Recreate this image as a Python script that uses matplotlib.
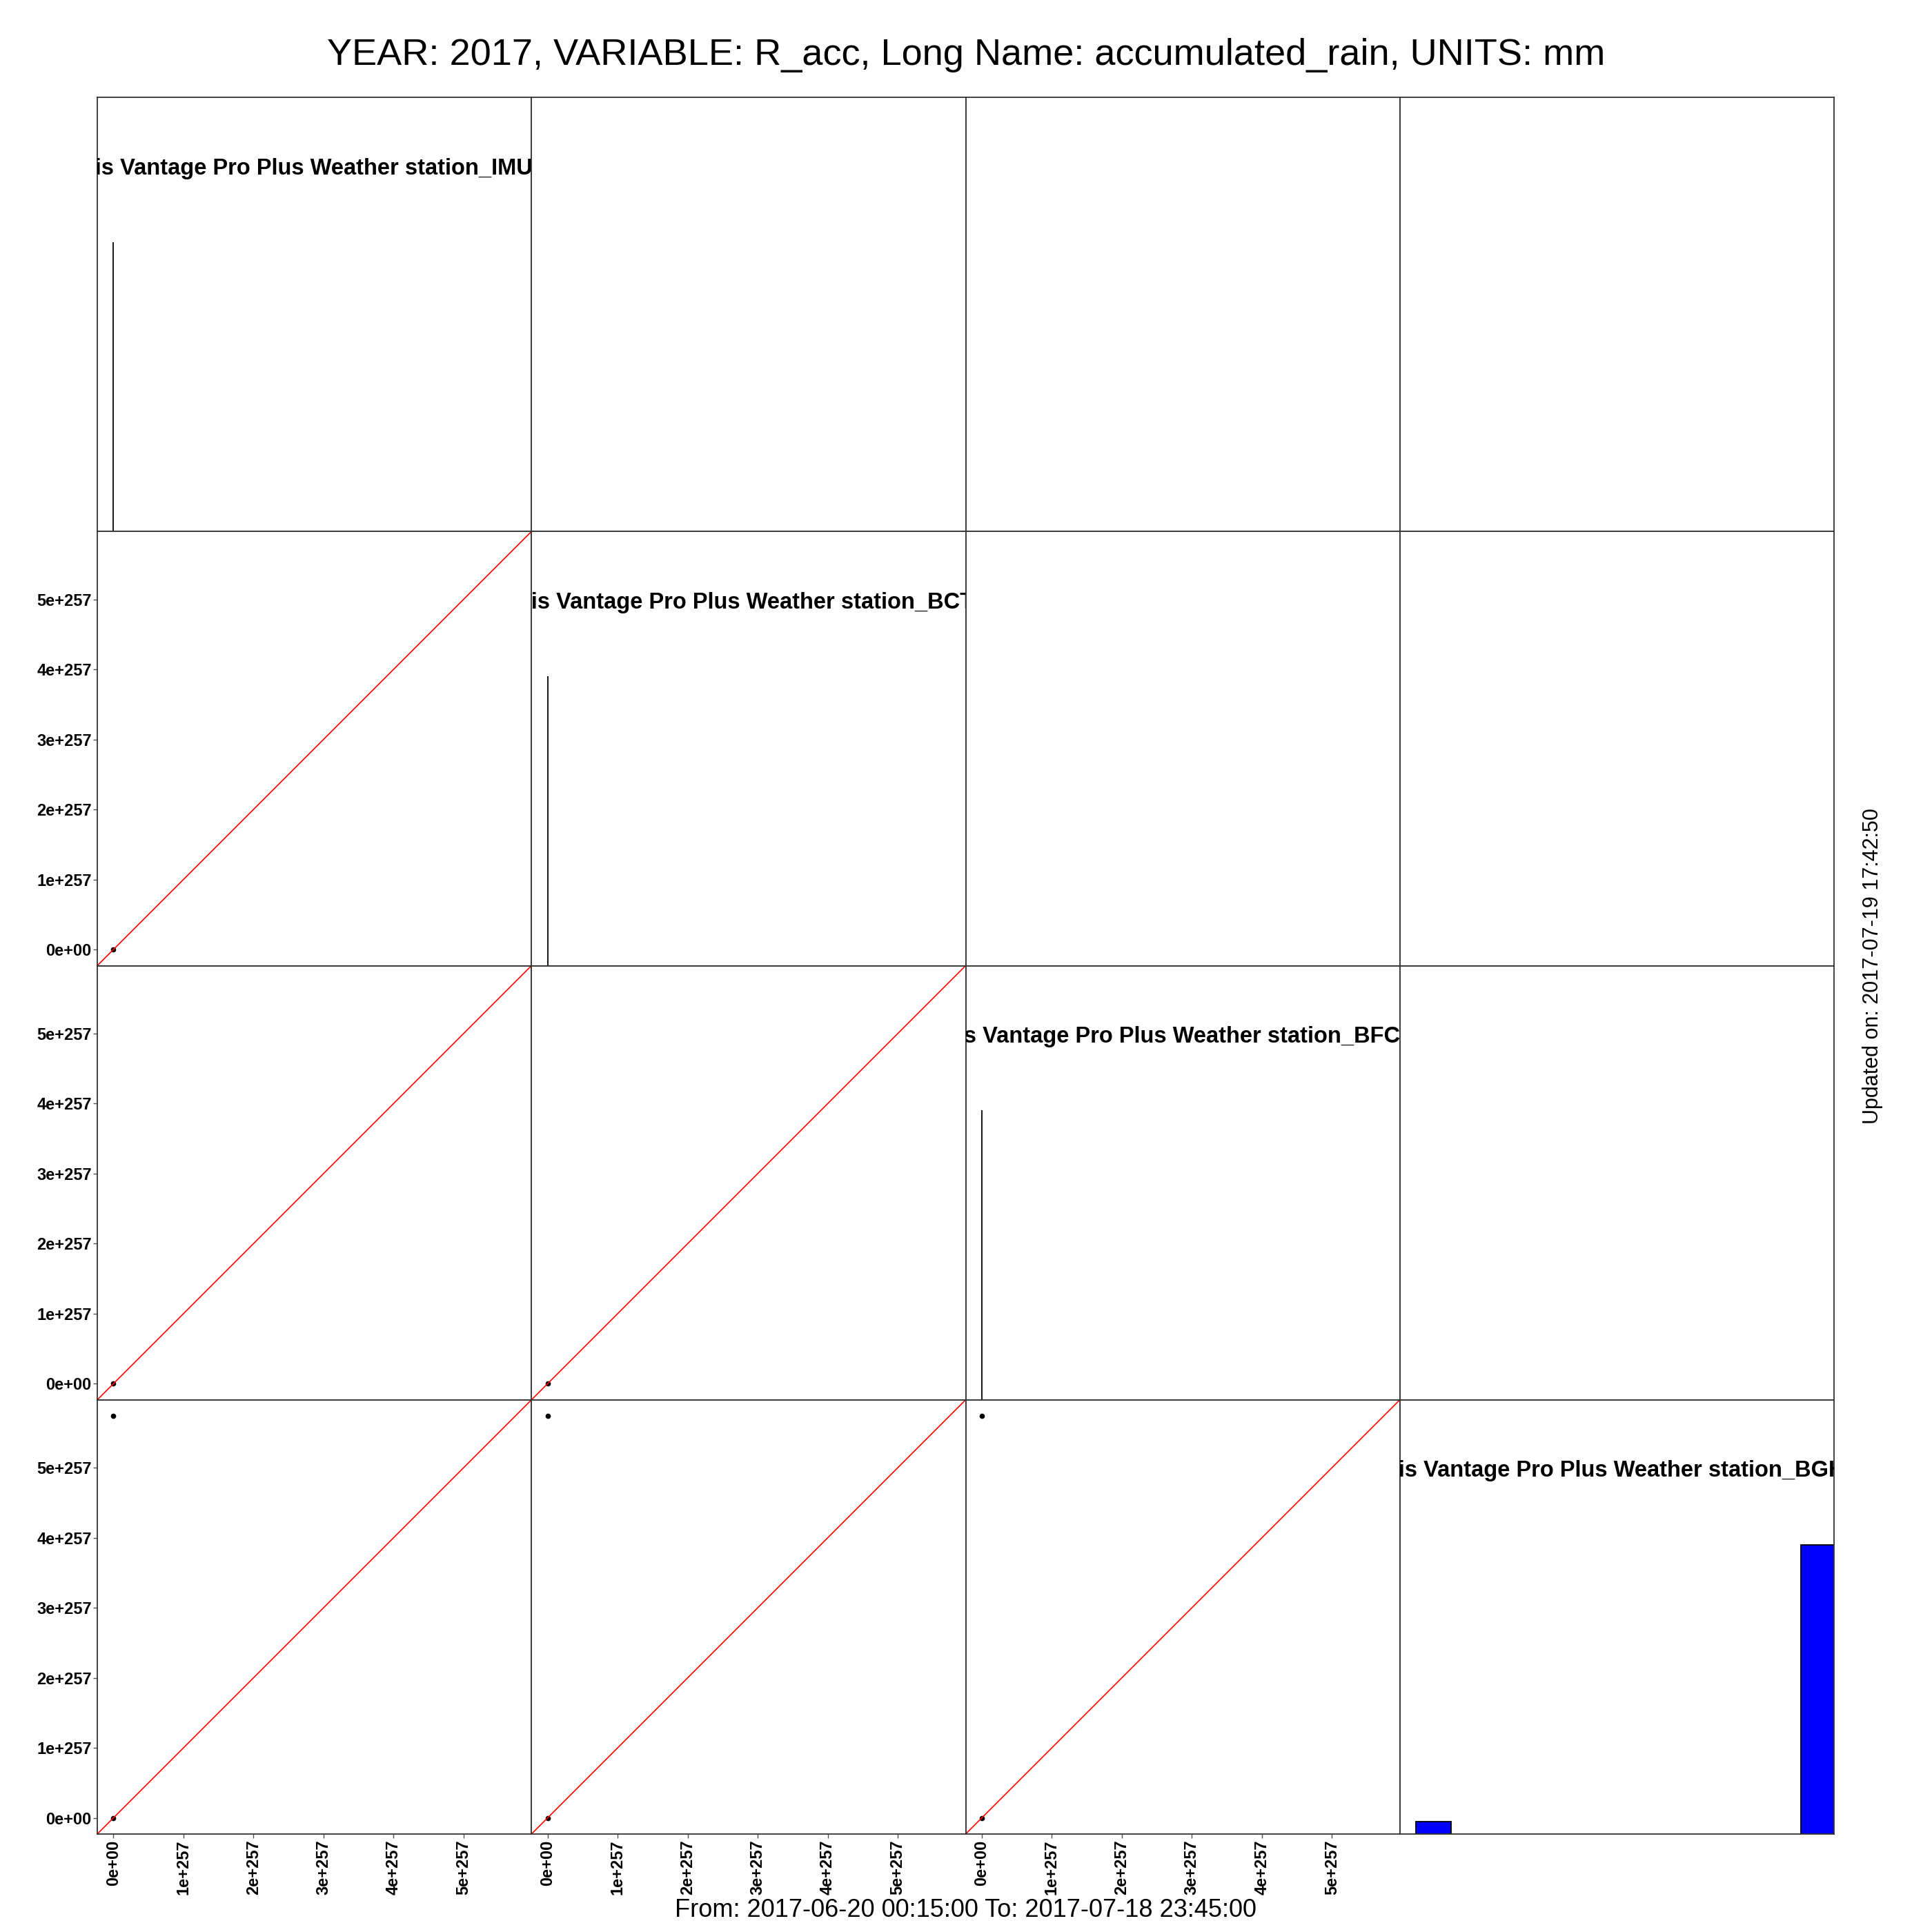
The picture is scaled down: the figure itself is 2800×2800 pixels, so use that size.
import numpy as np
import matplotlib
matplotlib.use("Agg")
import matplotlib.pyplot as plt

plt.rcParams['font.family'] = ['Liberation Sans', 'DejaVu Sans']

# ---------------- data ----------------
title = "YEAR: 2017, VARIABLE: R_acc, Long Name: accumulated_rain, UNITS: mm"
bottom_text = "From: 2017-06-20 00:15:00 To: 2017-07-18 23:45:00"
right_text = "Updated on: 2017-07-19 17:42:50"
station_titles = [
    "Davis Vantage Pro Plus Weather station_IMU",
    "Davis Vantage Pro Plus Weather station_BCT",
    "Davis Vantage Pro Plus Weather station_BFC",
    "Davis Vantage Pro Plus Weather station_BGH",
]
data_min = 0.0
data_max = 5.74e257
tick_values = [0.0, 1e257, 2e257, 3e257, 4e257, 5e257]
tick_labels = ["0e+00", "1e+257", "2e+257", "3e+257", "4e+257", "5e+257"]

# scatter points of the lower panels: (row, col) -> x values, y values
scatter_x = {(1, 0): [0.0], (2, 0): [0.0], (2, 1): [0.0],
             (3, 0): [0.0, 0.0], (3, 1): [0.0, 0.0], (3, 2): [0.0, 0.0]}
scatter_y = {(1, 0): [0.0], (2, 0): [0.0], (2, 1): [0.0],
             (3, 0): [0.0, 5.74e257], (3, 1): [0.0, 5.74e257], (3, 2): [0.0, 5.74e257]}

# histogram on the diagonal: bin left edges, widths, counts
hist_left = [[0.0], [0.0], [0.0], [0.0, 5.5e257]]
hist_width = [[1e253], [1e253], [1e253], [0.5e257, 0.5e257]]
hist_counts = [[24], [24], [24], [1, 23]]

SCALE = 1e257  # plotting unit

# layout: right end of each (clipped) station title, in axes fraction
title_right_x = [1.003, 1.019, 1.0, 1.024]

# ---------------- figure ----------------
W = 2800
fig, axes = plt.subplots(4, 4, figsize=(28, 28), dpi=100)
fig.subplots_adjust(left=141 / W, right=2658 / W, bottom=1 - 2658 / W, top=1 - 141 / W,
                    wspace=0, hspace=0)

span = (data_max - data_min) / SCALE
lim = (data_min / SCALE - 0.04 * span, data_max / SCALE + 0.04 * span)
ticks = [t / SCALE for t in tick_values]

n = 4
for r in range(n):
    for c in range(n):
        ax = axes[r, c]
        ax.set_xlim(lim)
        if r == c:
            ax.set_ylim(0, 1.5)
            cnt = np.array(hist_counts[r], dtype=float)
            left = np.array(hist_left[r]) / SCALE
            wid = np.array(hist_width[r]) / SCALE
            ax.bar(left, cnt / cnt.max(), width=wid, align='edge', color='blue',
                   edgecolor='black', linewidth=1.3)
            ax.text(title_right_x[r], 0.836, station_titles[r], transform=ax.transAxes,
                    ha='right', va='center', fontsize=23.5, fontweight='bold',
                    clip_on=True)
        else:
            ax.set_ylim(lim)
            if r > c:
                xs = np.array(scatter_x[(r, c)]) / SCALE
                ys = np.array(scatter_y[(r, c)]) / SCALE
                ax.plot(xs, ys, 'o', color='black', markersize=4.5, linestyle='none')
                ax.axline((0, 0), slope=1, color='red', linewidth=1.2)
        # ticks
        ax.tick_params(direction='out', length=4, width=1, color='#555555',
                       labelsize=17, pad=2)
        if c == 0 and r > 0:
            ax.set_yticks(ticks)
            ax.set_yticklabels(tick_labels, fontweight='bold')
        else:
            ax.set_yticks([])
        if r == n - 1 and c < n - 1:
            ax.set_xticks(ticks)
            ax.set_xticklabels(tick_labels, fontweight='bold', rotation=90)
        else:
            ax.set_xticks([])
        for s in ax.spines.values():
            s.set_linewidth(1.3)
            s.set_color('#333333')

fig.text(0.5, 1 - 80 / W, title, ha='center', va='center', fontsize=39)
fig.text(0.5, 1 - 2768 / W, bottom_text, ha='center', va='center', fontsize=26)
fig.text(2714 / W, 0.5, right_text, ha='center', va='center', fontsize=22, rotation=90)

fig.savefig("out.png", dpi=100)
